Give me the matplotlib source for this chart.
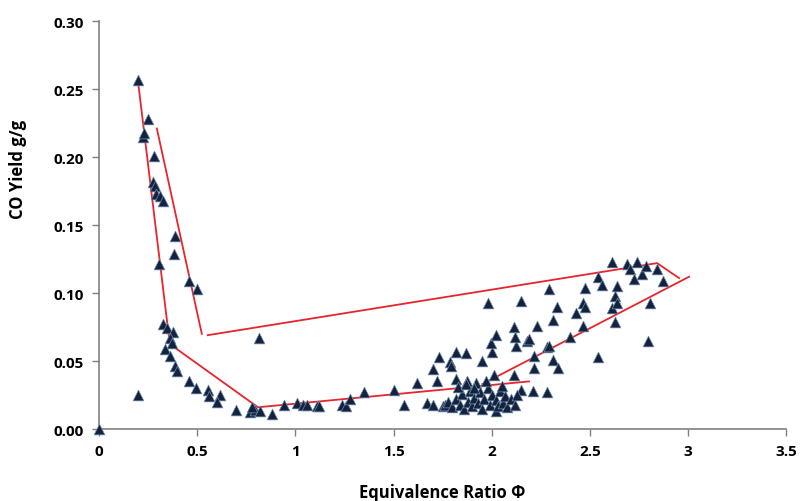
import numpy as np
import matplotlib
matplotlib.use("Agg")
import matplotlib.pyplot as plt

# measured equivalence ratio vs CO yield
phi = [
    0.0, 0.198, 0.249, 0.224, 0.232, 0.280, 0.275, 0.285, 0.290, 0.310, 0.325,
    0.386, 0.381, 0.305, 0.458, 0.498, 0.325, 0.345, 0.376, 0.360, 0.370,
    0.336, 0.360, 0.390, 0.397, 0.458, 0.493, 0.554, 0.560, 0.615, 0.600,
    0.198, 0.813, 0.697, 0.768, 0.793, 0.780, 0.820, 0.880,
    0.945, 1.010, 1.037, 1.060, 1.110, 1.120, 1.240, 1.260, 1.280, 1.350,
    1.500, 1.556, 1.620,
    1.670, 1.700, 1.730, 1.700, 1.720, 1.750, 1.790, 1.795, 1.820, 1.870,
    1.820, 1.876, 1.920, 1.950, 2.000, 1.995, 2.010, 2.115, 2.125, 2.180,
    2.217, 2.217, 2.280, 2.150, 2.210, 2.280, 2.020,
    1.76, 1.78, 1.80, 1.82, 1.84, 1.85, 1.86, 1.88, 1.89, 1.90, 1.91, 1.93,
    1.94, 1.95, 1.96, 1.98, 1.99, 2.00, 2.02, 2.03, 2.04, 2.06, 2.07, 2.08,
    2.10, 2.12, 2.13, 1.83, 1.87, 1.97, 2.05, 1.91,
    1.980, 2.020, 2.115, 2.120, 2.150, 2.190, 2.230, 2.290, 2.330, 2.310,
    2.290, 2.310, 2.340, 2.400, 2.430, 2.466, 2.476, 2.476, 2.466, 2.540,
    2.560, 2.540, 2.610, 2.610, 2.630, 2.640, 2.640, 2.630, 2.690, 2.705,
    2.740, 2.725, 2.766, 2.786, 2.840, 2.870, 2.806, 2.796,
]
co_yield = [
    0.0, 0.257, 0.228, 0.215, 0.218, 0.201, 0.182, 0.179, 0.173, 0.171, 0.168,
    0.142, 0.129, 0.121, 0.109, 0.103, 0.077, 0.074, 0.071, 0.067, 0.063,
    0.059, 0.054, 0.046, 0.043, 0.035, 0.030, 0.029, 0.024, 0.025, 0.020,
    0.025, 0.067, 0.014, 0.0125, 0.014, 0.016, 0.013, 0.011,
    0.018, 0.019, 0.018, 0.018, 0.017, 0.017, 0.018, 0.017, 0.022, 0.027,
    0.029, 0.018, 0.034,
    0.019, 0.018, 0.053, 0.044, 0.035, 0.017, 0.049, 0.046, 0.057, 0.056,
    0.037, 0.035, 0.034, 0.050, 0.057, 0.063, 0.040, 0.040, 0.061, 0.065,
    0.045, 0.054, 0.060, 0.029, 0.028, 0.027, 0.013,
    0.018, 0.020, 0.016, 0.022, 0.018, 0.026, 0.015, 0.020, 0.028, 0.017,
    0.023, 0.019, 0.027, 0.015, 0.022, 0.030, 0.018, 0.025, 0.021, 0.017,
    0.028, 0.019, 0.024, 0.016, 0.022, 0.018, 0.025, 0.031, 0.033, 0.035,
    0.032, 0.030,
    0.093, 0.069, 0.075, 0.068, 0.094, 0.066, 0.076, 0.103, 0.090, 0.080,
    0.061, 0.051, 0.045, 0.068, 0.085, 0.093, 0.090, 0.104, 0.076, 0.112,
    0.106, 0.053, 0.123, 0.089, 0.098, 0.105, 0.093, 0.079, 0.121, 0.118,
    0.123, 0.110, 0.114, 0.120, 0.118, 0.109, 0.093, 0.065,
]

# hand-drawn envelope lines
lower_x = [0.198, 0.361, 0.81, 2.19]
lower_y = [0.257, 0.0625, 0.016, 0.035]
steep_x = [0.295, 0.524]
steep_y = [0.221, 0.070]
upper_x = [0.554, 2.842, 2.954]
upper_y = [0.069, 0.122, 0.111]
right_x = [1.952, 3.005]
right_y = [0.033, 0.112]

plt.rcParams['font.family'] = ['Open Sans', 'DejaVu Sans']

fig = plt.figure(figsize=(8.04, 5.02), dpi=100)
ax = fig.add_axes([0.123, 0.1434, 0.855, 0.8126])

for lx, ly in [(lower_x, lower_y), (steep_x, steep_y),
               (upper_x, upper_y), (right_x, right_y)]:
    ax.plot(lx, ly, color='#e8242c', lw=1.3, zorder=2)

ax.scatter(phi, co_yield, marker='^', s=60, color='#15223d',
           edgecolors='#6f8fb0', linewidths=0.5, zorder=3, clip_on=False)

ax.set_xlim(0, 3.5)
ax.set_ylim(0, 0.30)
ax.set_xticks(np.arange(0, 3.51, 0.5))
ax.set_xticklabels(['0', '0.5', '1', '1.5', '2', '2.5', '3', '3.5'])
ax.set_yticks(np.arange(0, 0.301, 0.05))
ax.set_yticklabels(['%.2f' % v for v in np.arange(0, 0.301, 0.05)])

for side in ['top', 'right']:
    ax.spines[side].set_visible(False)
for side in ['left', 'bottom']:
    ax.spines[side].set_color('#808080')
    ax.spines[side].set_linewidth(1.2)
ax.tick_params(direction='out', color='#808080', length=5, width=1,
               labelsize=11, pad=6)
for lab in ax.get_xticklabels() + ax.get_yticklabels():
    lab.set_fontweight('bold')

ax.set_xlabel('Equivalence Ratio Φ', fontsize=12, fontweight='bold', labelpad=18)
ax.set_ylabel('CO Yield g/g', fontsize=12, fontweight='bold')
ax.yaxis.set_label_coords(-0.105, 0.64)

fig.savefig('out.png', dpi=100)
